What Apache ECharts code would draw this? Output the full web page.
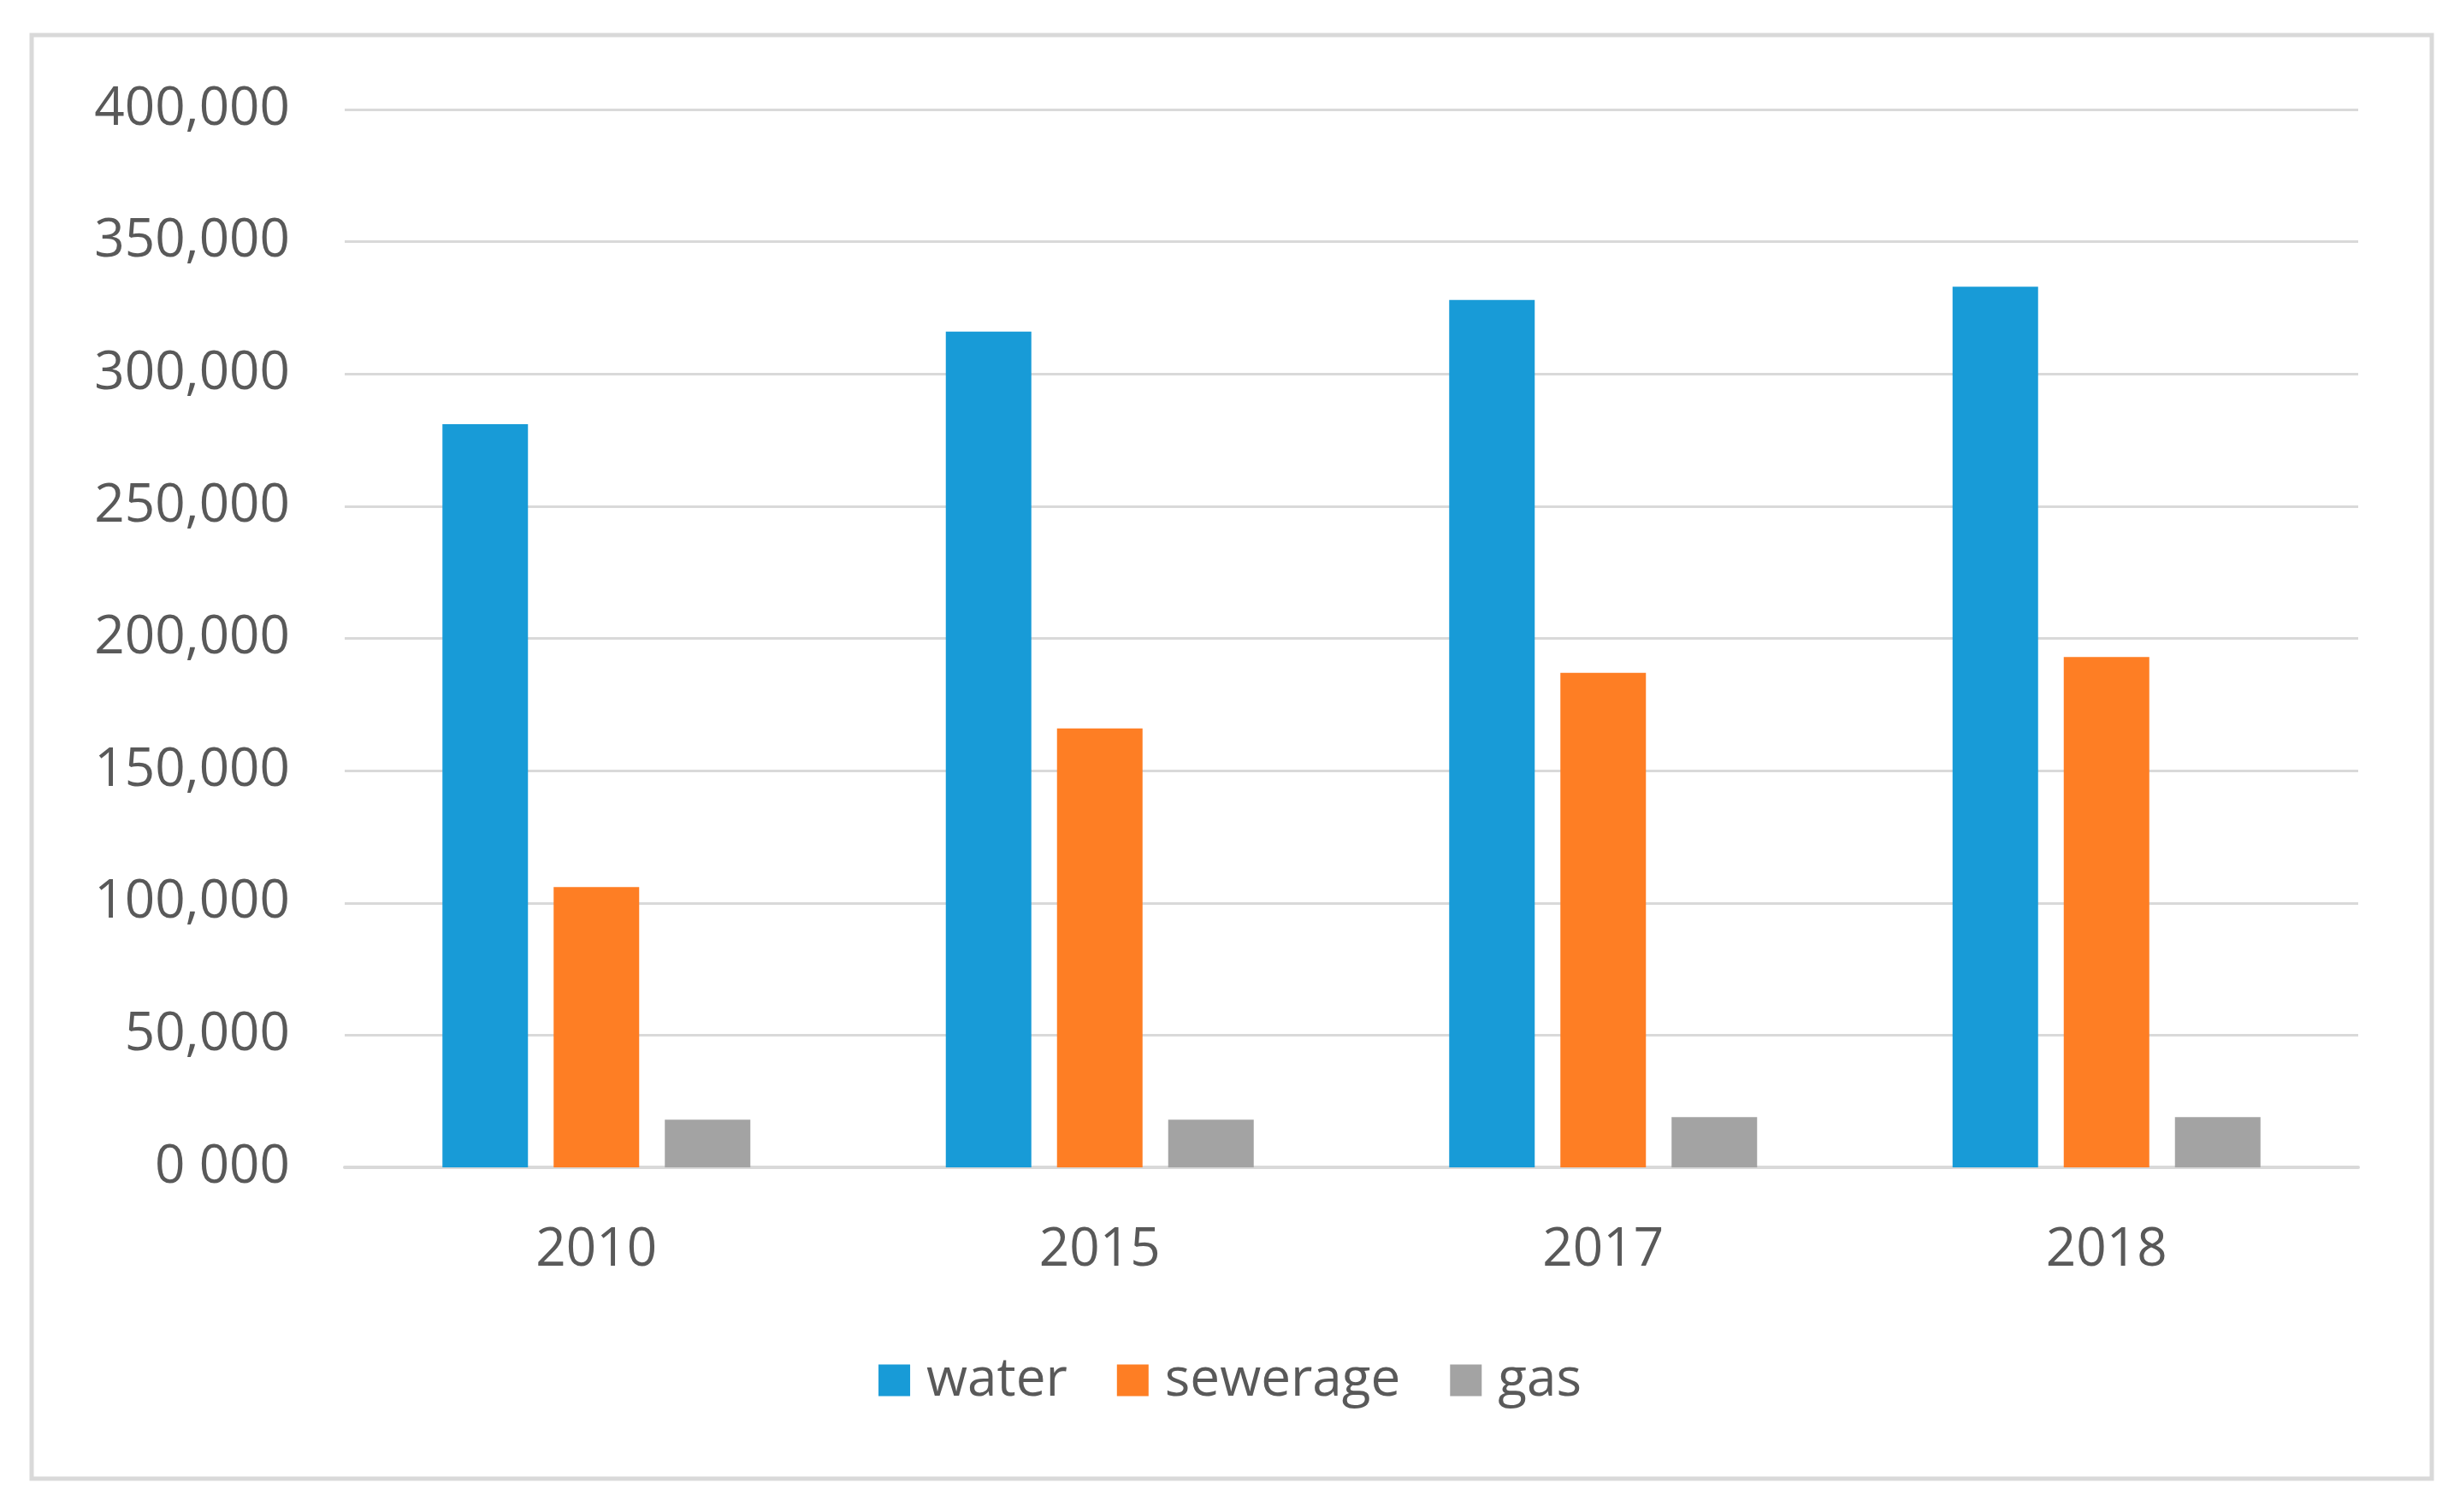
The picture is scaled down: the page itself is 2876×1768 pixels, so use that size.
<!DOCTYPE html>
<html>
<head>
<meta charset="utf-8">
<script src="https://cdn.jsdelivr.net/npm/echarts@6/dist/echarts.min.js"></script>
<style>
html,body{margin:0;padding:0;background:#fff;}
#c{width:2876px;height:1768px;}
</style>
</head>
<body>
<div id="c"></div>
<script>
var categories = ['2010', '2015', '2017', '2018'];
var water = [281000, 316000, 328000, 333000];
var sewerage = [106000, 166000, 187000, 193000];
var gas = [18000, 18000, 19000, 19000];
var seriesNames = ['water', 'sewerage', 'gas'];
var yTicks = { min: 0, max: 400000, interval: 50000 };

var chart = echarts.init(document.getElementById('c'));
var font = '"Open Sans", "Noto Sans", sans-serif';
var textColor = '#595959';

function fmt(v) {
  if (v === 0) return '0 000';
  return v.toLocaleString('en-US');
}

chart.setOption({
  backgroundColor: '#ffffff',
  animation: false,
  graphic: [{
    type: 'rect',
    shape: { x: 37, y: 41, width: 2806, height: 1688 },
    style: { fill: 'none', stroke: '#d9d9d9', lineWidth: 5 },
    silent: true
  }],
  grid: { left: 403, right: 119, top: 128, bottom: 403, containLabel: false },
  legend: {
    data: seriesNames,
    bottom: 118,
    left: 'center',
    itemWidth: 37,
    itemHeight: 37,
    itemGap: 58,
    icon: 'rect',
    textStyle: { fontFamily: font, fontSize: 62, color: textColor, padding: [0, 0, 0, 14] }
  },
  xAxis: {
    type: 'category',
    data: categories,
    axisLine: { show: true, lineStyle: { color: '#d9d9d9', width: 4 } },
    axisTick: { show: false },
    axisLabel: { fontFamily: font, fontSize: 62, color: textColor, margin: 66 }
  },
  yAxis: {
    type: 'value',
    min: yTicks.min,
    max: yTicks.max,
    interval: yTicks.interval,
    axisLine: { show: false },
    axisTick: { show: false },
    splitLine: { lineStyle: { color: '#d9d9d9', width: 3 } },
    axisLabel: { fontFamily: font, fontSize: 62, color: textColor, margin: 64, formatter: fmt }
  },
  series: [
    { name: seriesNames[0], type: 'bar', data: water, barWidth: 100, barGap: '30%', itemStyle: { color: '#189BD7' } },
    { name: seriesNames[1], type: 'bar', data: sewerage, barWidth: 100, barGap: '30%', itemStyle: { color: '#FE7E24' } },
    { name: seriesNames[2], type: 'bar', data: gas, barWidth: 100, barGap: '30%', itemStyle: { color: '#A3A3A3' } }
  ]
});
</script>
</body>
</html>
